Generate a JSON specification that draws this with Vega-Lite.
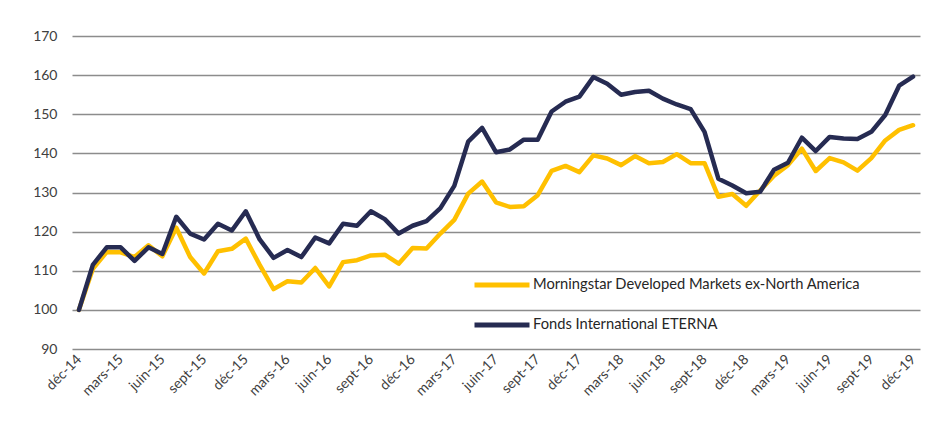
{
  "$schema": "https://vega.github.io/schema/vega-lite/v6.json",
  "width": 848,
  "height": 313,
  "padding": {"left": 5, "top": 29, "right": 32, "bottom": 5},
  "background": "white",
  "datasets": {
    "d": [
      {"m":"déc-14","i":0,"f":100,"g":100},
      {"m":"janv-15","i":1,"f":111.5,"g":110.5},
      {"m":"févr-15","i":2,"f":116,"g":114.8},
      {"m":"mars-15","i":3,"f":116,"g":114.7},
      {"m":"avr-15","i":4,"f":112.5,"g":113.5},
      {"m":"mai-15","i":5,"f":116,"g":116.5},
      {"m":"juin-15","i":6,"f":114.3,"g":113.7},
      {"m":"juil-15","i":7,"f":123.8,"g":121},
      {"m":"août-15","i":8,"f":119.5,"g":113.5},
      {"m":"sept-15","i":9,"f":118,"g":109.3},
      {"m":"oct-15","i":10,"f":122,"g":115},
      {"m":"nov-15","i":11,"f":120.3,"g":115.6},
      {"m":"déc-15","i":12,"f":125.2,"g":118.2},
      {"m":"janv-16","i":13,"f":118,"g":111.5},
      {"m":"févr-16","i":14,"f":113.3,"g":105.3},
      {"m":"mars-16","i":15,"f":115.3,"g":107.3},
      {"m":"avr-16","i":16,"f":113.5,"g":107},
      {"m":"mai-16","i":17,"f":118.5,"g":110.7},
      {"m":"juin-16","i":18,"f":117,"g":106},
      {"m":"juil-16","i":19,"f":122,"g":112.2},
      {"m":"août-16","i":20,"f":121.5,"g":112.7},
      {"m":"sept-16","i":21,"f":125.2,"g":113.9},
      {"m":"oct-16","i":22,"f":123.2,"g":114.1},
      {"m":"nov-16","i":23,"f":119.5,"g":111.8},
      {"m":"déc-16","i":24,"f":121.5,"g":115.8},
      {"m":"janv-17","i":25,"f":122.7,"g":115.7},
      {"m":"févr-17","i":26,"f":126,"g":119.5},
      {"m":"mars-17","i":27,"f":131.7,"g":123},
      {"m":"avr-17","i":28,"f":143,"g":129.7},
      {"m":"mai-17","i":29,"f":146.5,"g":132.8},
      {"m":"juin-17","i":30,"f":140.3,"g":127.5},
      {"m":"juil-17","i":31,"f":141,"g":126.3},
      {"m":"août-17","i":32,"f":143.5,"g":126.5},
      {"m":"sept-17","i":33,"f":143.5,"g":129.3},
      {"m":"oct-17","i":34,"f":150.7,"g":135.5},
      {"m":"nov-17","i":35,"f":153.2,"g":136.8},
      {"m":"déc-17","i":36,"f":154.5,"g":135.2},
      {"m":"janv-18","i":37,"f":159.5,"g":139.5},
      {"m":"févr-18","i":38,"f":157.8,"g":138.7},
      {"m":"mars-18","i":39,"f":155,"g":137},
      {"m":"avr-18","i":40,"f":155.7,"g":139.3},
      {"m":"mai-18","i":41,"f":156,"g":137.5},
      {"m":"juin-18","i":42,"f":154,"g":137.8},
      {"m":"juil-18","i":43,"f":152.5,"g":139.8},
      {"m":"août-18","i":44,"f":151.3,"g":137.5},
      {"m":"sept-18","i":45,"f":145.5,"g":137.5},
      {"m":"oct-18","i":46,"f":133.5,"g":128.9},
      {"m":"nov-18","i":47,"f":131.8,"g":129.6},
      {"m":"déc-18","i":48,"f":129.8,"g":126.6},
      {"m":"janv-19","i":49,"f":130.2,"g":130.5},
      {"m":"févr-19","i":50,"f":135.8,"g":134.3},
      {"m":"mars-19","i":51,"f":137.6,"g":137},
      {"m":"avr-19","i":52,"f":144,"g":141.2},
      {"m":"mai-19","i":53,"f":140.6,"g":135.5},
      {"m":"juin-19","i":54,"f":144.2,"g":138.8},
      {"m":"juil-19","i":55,"f":143.8,"g":137.7},
      {"m":"août-19","i":56,"f":143.7,"g":135.6},
      {"m":"sept-19","i":57,"f":145.5,"g":138.8},
      {"m":"oct-19","i":58,"f":149.8,"g":143.3},
      {"m":"nov-19","i":59,"f":157.3,"g":146},
      {"m":"déc-19","i":60,"f":159.6,"g":147.2}
    ]
  },
  "data": {"name": "d"},
  "transform": [
    {"fold": ["g", "f"], "as": ["k", "v"]},
    {"calculate": "datum.k === 'g' ? 'Morningstar Developed Markets ex-North America' : 'Fonds International ETERNA'", "as": "serie"}
  ],
  "mark": {"type": "line", "strokeWidth": 4.5, "strokeJoin": "round", "strokeCap": "round"},
  "encoding": {
    "x": {
      "field": "m", "type": "ordinal", "sort": {"field": "i"},
      "scale": {"type": "point", "padding": 0.5},
      "axis": {
        "title": null, "labelAngle": -45, "labelAlign": "right", "labelBaseline": "middle",
        "values": ["déc-14","mars-15","juin-15","sept-15","déc-15","mars-16","juin-16","sept-16","déc-16","mars-17","juin-17","sept-17","déc-17","mars-18","juin-18","sept-18","déc-18","mars-19","juin-19","sept-19","déc-19"],
        "ticks": false, "domain": false, "grid": false, "labelPadding": 8,
        "labelFont": "Lato", "labelFontSize": 14, "labelColor": "#404040"
      }
    },
    "y": {
      "field": "v", "type": "quantitative",
      "scale": {"domain": [90, 170], "nice": false, "zero": false},
      "axis": {
        "title": null, "values": [90,100,110,120,130,140,150,160,170], "ticks": false, "domain": false,
        "grid": true, "gridColor": "#8c8c8c", "gridWidth": 1.5,
        "labelPadding": 15, "labelFont": "Lato", "labelFontSize": 14, "labelColor": "#404040",
        "minExtent": 67, "maxExtent": 67
      }
    },
    "color": {
      "field": "serie", "type": "nominal",
      "scale": {"domain": ["Morningstar Developed Markets ex-North America", "Fonds International ETERNA"], "range": ["#FFC000", "#262B52"]},
      "legend": {
        "title": null, "orient": "none", "legendX": 400, "legendY": 219,
        "symbolType": "stroke", "symbolSize": 3025, "symbolStrokeWidth": 5,
        "labelFont": "Lato", "labelFontSize": 14.7, "labelColor": "#262626",
        "labelOffset": 1, "rowPadding": -20, "labelLimit": 500
      }
    }
  },
  "config": {"view": {"stroke": null}}
}
